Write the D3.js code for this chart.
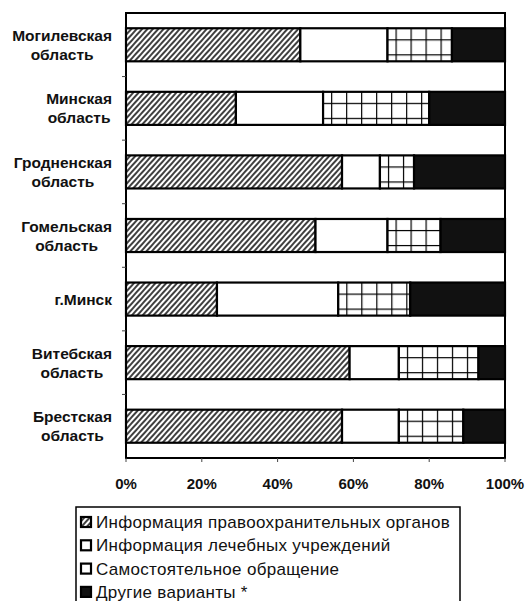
<!DOCTYPE html>
<html>
<head>
<meta charset="utf-8">
<script src="https://cdn.jsdelivr.net/npm/d3@7"></script>
<style>
  html, body { margin: 0; padding: 0; background: #fff; }
  svg { display: block; }
</style>
</head>
<body>
<svg id="chart" width="529" height="601"></svg>
<script>
// ---- data ----
const categories = ["Могилевская область", "Минская область", "Гродненская область", "Гомельская область", "г.Минск", "Витебская область", "Брестская область"];
const lawEnforcement = [46, 29, 57, 50, 24, 59, 57];   // Информация правоохранительных органов
const medical        = [23, 23, 10, 19, 32, 13, 15];   // Информация лечебных учреждений
const selfReferral   = [17, 28,  9, 14, 19, 21, 17];   // Самостоятельное обращение
const other          = [14, 20, 24, 17, 25,  7, 11];   // Другие варианты *
const seriesNames = ["Информация правоохранительных органов", "Информация лечебных учреждений", "Самостоятельное обращение", "Другие варианты *"];
const xTicks = [0, 20, 40, 60, 80, 100];
const xTickLabels = ["0%", "20%", "40%", "60%", "80%", "100%"];

// ---- layout ----
const plot = { left: 126, right: 505, top: 13, bottom: 458 };
const svg = d3.select("#chart");

const keys = ["law", "med", "self", "other"];
const rows = categories.map((c, i) => ({ cat: c, law: lawEnforcement[i], med: medical[i], self: selfReferral[i], other: other[i] }));
const stacked = d3.stack().keys(keys)(rows);

const x = d3.scaleLinear().domain([0, 100]).range([plot.left, plot.right]);
const y = d3.scaleBand().domain(categories).range([plot.top, plot.bottom]).paddingInner(0.48).paddingOuter(0.24);

const defs = svg.append("defs");
// hatch pattern
const hatch = defs.append("pattern").attr("id", "hatch").attr("patternUnits", "userSpaceOnUse")
  .attr("width", 4).attr("height", 10).attr("patternTransform", "rotate(42)");
hatch.append("rect").attr("width", 4).attr("height", 10).attr("fill", "#fff");
hatch.append("line").attr("x1", 1).attr("x2", 1).attr("y1", 0).attr("y2", 10).attr("stroke", "#000").attr("stroke-width", 1.5);

// grid patterns per row (aligned to each bar)
const selfLayer = stacked[2];
selfLayer.forEach((d, i) => {
  const p = defs.append("pattern").attr("id", "grid" + i).attr("patternUnits", "userSpaceOnUse")
    .attr("width", 15).attr("height", 15)
    .attr("x", x(d[0]) + 8).attr("y", y(categories[i]) + 11);
  p.append("rect").attr("width", 15).attr("height", 15).attr("fill", "#fff");
  p.append("line").attr("x1", 0).attr("x2", 15).attr("y1", 0).attr("y2", 0).attr("stroke", "#000").attr("stroke-width", 2.4);
  p.append("line").attr("x1", 0).attr("x2", 0).attr("y1", 0).attr("y2", 15).attr("stroke", "#000").attr("stroke-width", 2.4);
});

// frame background
svg.append("rect").attr("x", plot.left).attr("y", plot.top)
  .attr("width", plot.right - plot.left).attr("height", plot.bottom - plot.top)
  .attr("fill", "#fff");

// bars
const fills = {
  law: () => "url(#hatch)",
  med: () => "#fff",
  self: (i) => "url(#grid" + i + ")",
  other: () => "#111"
};
stacked.forEach(layer => {
  svg.append("g").selectAll("rect").data(layer).join("rect")
    .attr("x", d => x(d[0]))
    .attr("y", (d, i) => y(categories[i]))
    .attr("width", d => x(d[1]) - x(d[0]))
    .attr("height", y.bandwidth())
    .attr("fill", (d, i) => fills[layer.key](i))
    .attr("stroke", "#000")
    .attr("stroke-width", 2.2);
});

// frame
svg.append("rect").attr("x", plot.left).attr("y", plot.top)
  .attr("width", plot.right - plot.left).attr("height", plot.bottom - plot.top)
  .attr("fill", "none").attr("stroke", "#000").attr("stroke-width", 2);

// left band-boundary ticks
const boundaries = categories.slice(1).map(c => y(c) - (y.step() - y.bandwidth()) / 2);
svg.append("g").selectAll("line").data(boundaries).join("line")
  .attr("x1", plot.left - 4).attr("x2", plot.left).attr("y1", d => d).attr("y2", d => d)
  .attr("stroke", "#444").attr("stroke-width", 1);

// bottom ticks
svg.append("g").selectAll("line").data(xTicks).join("line")
  .attr("x1", d => x(d)).attr("x2", d => x(d)).attr("y1", plot.bottom).attr("y2", plot.bottom + 4)
  .attr("stroke", "#444").attr("stroke-width", 1);

// x tick labels
svg.append("g").selectAll("text").data(xTicks).join("text")
  .attr("x", d => x(d)).attr("y", 489)
  .attr("text-anchor", "middle")
  .attr("font-family", "Liberation Sans, Arial, sans-serif")
  .attr("font-size", 15).attr("font-weight", "bold").attr("fill", "#111")
  .text((d, i) => xTickLabels[i]);

// category labels (block right-aligned, lines centered)
const labelRight = 112;
categories.forEach(c => {
  const lines = c.split(" ");
  const cy = y(c) + y.bandwidth() / 2;
  const g = svg.append("g");
  const texts = lines.map((ln, j) => g.append("text")
    .attr("font-family", "Liberation Sans, Arial, sans-serif")
    .attr("font-size", 15.5).attr("font-weight", "bold").attr("fill", "#111")
    .attr("text-anchor", "middle")
    .attr("y", cy + (j - (lines.length - 1) / 2) * 19 + 5.5)
    .text(ln));
  const maxW = d3.max(texts, t => t.node().getComputedTextLength());
  texts.forEach(t => t.attr("x", labelRight - maxW / 2));
});

// legend
const lg = svg.append("g");
lg.append("rect").attr("x", 76).attr("y", 507).attr("width", 384).attr("height", 120)
  .attr("fill", "#fff").attr("stroke", "#000").attr("stroke-width", 1.5);
const legendFills = ["url(#hatch)", "#fff", "#fff", "#111"];
seriesNames.forEach((name, i) => {
  const cy = 522 + i * 23.3;
  lg.append("rect").attr("x", 81).attr("y", cy - 5).attr("width", 10).attr("height", 10)
    .attr("fill", legendFills[i]).attr("stroke", "#000").attr("stroke-width", 2.2);
  lg.append("text").attr("x", 96).attr("y", cy + 6)
    .attr("font-family", "Liberation Sans, Arial, sans-serif")
    .attr("font-size", 17).attr("letter-spacing", 0.3).attr("fill", "#111")
    .text(name);
});
</script>
</body>
</html>
